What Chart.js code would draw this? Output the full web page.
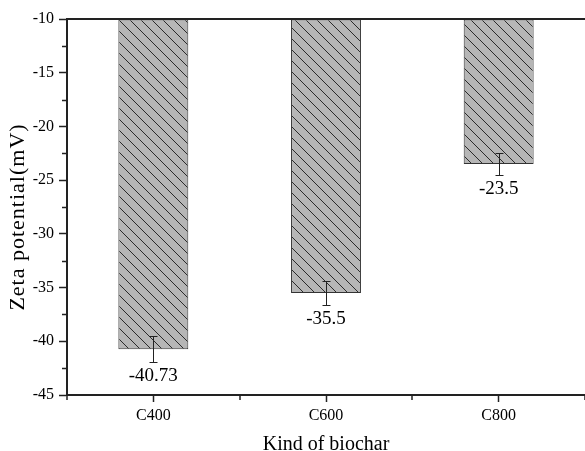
<!DOCTYPE html>
<html>
<head>
<meta charset="utf-8">
<script src="https://cdn.jsdelivr.net/npm/chart.js@4.4.0/dist/chart.umd.min.js"></script>
<style>
  html, body { margin: 0; padding: 0; background: #fff; }
</style>
</head>
<body>
<canvas id="zetaChart" width="585" height="451"></canvas>
<script>
// biochar samples and their zeta potential (mV) with error
const categories = ['C400', 'C600', 'C800'];
const zetaValues = [-40.73, -35.5, -23.5];
const zetaErrors = [1.2, 1.1, 1.0];
const yTicks = [-45, -40, -35, -30, -25, -20, -15, -10];
const yMinorTicks = [-42.5, -37.5, -32.5, -27.5, -22.5, -17.5, -12.5];

const SERIF = '"Liberation Serif", "Times New Roman", serif';
const AXIS_COLOR = '#222';

// grey fill with "\" hatching
function makeHatch() {
    const size = 11;
    const c = document.createElement('canvas');
    c.width = size;
    c.height = size;
    const g = c.getContext('2d');
    g.fillStyle = '#b6b6b6';
    g.fillRect(0, 0, size, size);
    g.strokeStyle = '#2a2a2a';
    g.lineWidth = 1;
    g.beginPath();
    g.moveTo(-1, -1); g.lineTo(size + 1, size + 1);
    g.moveTo(-1, size - 1); g.lineTo(1, size + 1);
    g.moveTo(size - 1, -1); g.lineTo(size + 1, 1);
    g.stroke();
    return g.createPattern(c, 'repeat');
}

// error bars, value labels, minor ticks, frame top and axis titles
const decorPlugin = {
    id: 'decor',
    afterDatasetsDraw(chart) {
        const { ctx } = chart;
        const yScale = chart.scales.y;
        const meta = chart.getDatasetMeta(0);
        ctx.save();
        ctx.strokeStyle = AXIS_COLOR;
        ctx.lineWidth = 1;
        meta.data.forEach((bar, i) => {
            const cx = Math.round(bar.x) + 0.5;
            const v = zetaValues[i];
            const e = zetaErrors[i];
            const yTop = Math.round(yScale.getPixelForValue(v + e)) + 0.5;
            const yBot = Math.round(yScale.getPixelForValue(v - e)) + 0.5;
            ctx.beginPath();
            ctx.moveTo(cx, yTop); ctx.lineTo(cx, yBot);
            ctx.moveTo(cx - 4, yTop); ctx.lineTo(cx + 4, yTop);
            ctx.moveTo(cx - 4, yBot); ctx.lineTo(cx + 4, yBot);
            ctx.stroke();

            ctx.fillStyle = '#000';
            ctx.font = '19px ' + SERIF;
            ctx.textAlign = 'center';
            ctx.textBaseline = 'middle';
            ctx.fillText(String(v), bar.x, yBot + 14);
        });
        ctx.restore();
    },
    afterDraw(chart) {
        const { ctx, chartArea } = chart;
        const xScale = chart.scales.x;
        const yScale = chart.scales.y;
        ctx.save();
        ctx.strokeStyle = AXIS_COLOR;

        // top frame line
        ctx.lineWidth = 2;
        ctx.beginPath();
        ctx.moveTo(chartArea.left, chartArea.top);
        ctx.lineTo(chartArea.right, chartArea.top);
        ctx.stroke();

        // minor ticks
        ctx.lineWidth = 1.5;
        ctx.beginPath();
        yMinorTicks.forEach(v => {
            const py = Math.round(yScale.getPixelForValue(v)) + 0.5;
            ctx.moveTo(chartArea.left - 5, py);
            ctx.lineTo(chartArea.left, py);
        });
        const band = (xScale.right - xScale.left) / categories.length;
        for (let k = 0; k <= categories.length; k++) {
            const px = Math.round(xScale.left + k * band);
            ctx.moveTo(px, chartArea.bottom);
            ctx.lineTo(px, chartArea.bottom + 5);
        }
        ctx.stroke();

        // axis titles
        ctx.fillStyle = '#000';
        ctx.font = '20px ' + SERIF;
        ctx.textAlign = 'center';
        ctx.textBaseline = 'alphabetic';
        ctx.fillText('Kind of biochar', (chartArea.left + chartArea.right) / 2, 450);

        ctx.save();
        ctx.translate(18, 217);
        ctx.rotate(-Math.PI / 2);
        ctx.font = '22px ' + SERIF;
        ctx.letterSpacing = '1px';
        ctx.textBaseline = 'middle';
        ctx.fillText('Zeta potential(mV)', 0, 0);
        ctx.restore();

        ctx.restore();
    }
};

const ctx = document.getElementById('zetaChart');
new Chart(ctx, {
    type: 'bar',
    data: {
        labels: categories,
        datasets: [{
            data: zetaValues,
            base: -10,
            backgroundColor: makeHatch(),
            borderColor: '#333',
            borderWidth: 1,
            borderSkipped: false,
            barPercentage: 0.405,
            categoryPercentage: 1
        }]
    },
    options: {
        responsive: false,
        animation: false,
        layout: { padding: { top: 19, right: 0, bottom: 0, left: 0 } },
        plugins: {
            legend: { display: false },
            tooltip: { enabled: false }
        },
        scales: {
            x: {
                offset: true,
                grid: { offset: false, drawOnChartArea: false, tickLength: 7, tickColor: AXIS_COLOR, tickWidth: 1.5 },
                border: { color: AXIS_COLOR, width: 2 },
                ticks: { color: '#000', font: { family: SERIF, size: 16 }, padding: 4 },
                afterFit: scale => { scale.height = 56; }
            },
            y: {
                min: -45,
                max: -10,
                afterBuildTicks: scale => { scale.ticks = yTicks.map(v => ({ value: v })); },
                grid: { drawOnChartArea: false, tickLength: 8, tickColor: AXIS_COLOR, tickWidth: 1.5 },
                border: { color: AXIS_COLOR, width: 2 },
                ticks: { color: '#000', font: { family: SERIF, size: 16 }, padding: 5 },
                afterFit: scale => { scale.width = 67; }
            }
        }
    },
    plugins: [decorPlugin]
});
</script>
</body>
</html>
